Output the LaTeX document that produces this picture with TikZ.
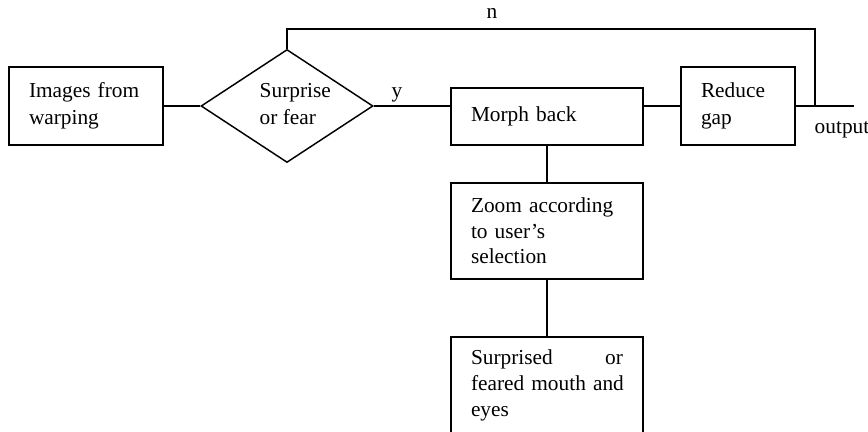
\documentclass[tikz,border=0pt]{standalone}
\usepackage{fontspec}
\setmainfont{Liberation Serif}
\usetikzlibrary{shapes.geometric}
\begin{document}
\begin{tikzpicture}[x=0.75pt,y=-0.75pt, line width=1.1pt,
  font=\fontsize{16pt}{20pt}\selectfont,
  box/.style={draw, rectangle, inner xsep=15pt, inner ysep=0pt, align=left},
  dec/.style={draw, diamond, inner sep=0pt},
  lbl/.style={inner sep=0pt}]
\useasboundingbox (0,0) rectangle (868,432);
\clip (0,0) rectangle (868,432);
\node[box, minimum width=115.5pt, minimum height=58.5pt, text width=85.5pt] (imgs) at (86,106) {Images from\\warping};
\node[dec, minimum width=129pt, minimum height=84.75pt] (dia) at (287,106) {};
\node[lbl, anchor=west, align=left] (dtext) at (259,104) {Surprise\\or fear};
\node[box, minimum width=144pt, minimum height=42.75pt, text width=114pt] (morph) at (547,116.5) {Morph back};
\node[box, minimum width=85.5pt, minimum height=58.5pt, text width=55.5pt] (reduce) at (738,106) {Reduce\\gap};
\node[box, minimum width=144pt, minimum height=72pt, text width=114pt, font=\fontsize{16pt}{19pt}\selectfont] (zoom) at (547,231) {Zoom according\\to user's\\selection};
\node[box, minimum width=144pt, minimum height=72.75pt, text width=114pt, font=\fontsize{16pt}{19.5pt}\selectfont] (surp) at (547,385.5) {Surprised\hfill or\\\mbox{feared mouth and}\\eyes};
\coordinate (out) at (854,106);
\coordinate (fb) at (815,106);
\coordinate (top) at (815,29);
\draw (imgs.east) -- (dia.west);
\draw (dia.east) -- (dia.east -| morph.west);
\draw (reduce.west -| morph.east) -- (reduce.west);
\draw (reduce.east) -- (out);
\draw (dia.north) |- (top) -- (fb);
\draw (morph.south) -- (zoom.north);
\draw (zoom.south) -- (surp.north);
\node[lbl] (nlbl) at (492,13) {n};
\node[lbl] (ylbl) at (397,95) {y};
\node[lbl] (outlbl) at (842,130) {output};
\end{tikzpicture}
\end{document}
